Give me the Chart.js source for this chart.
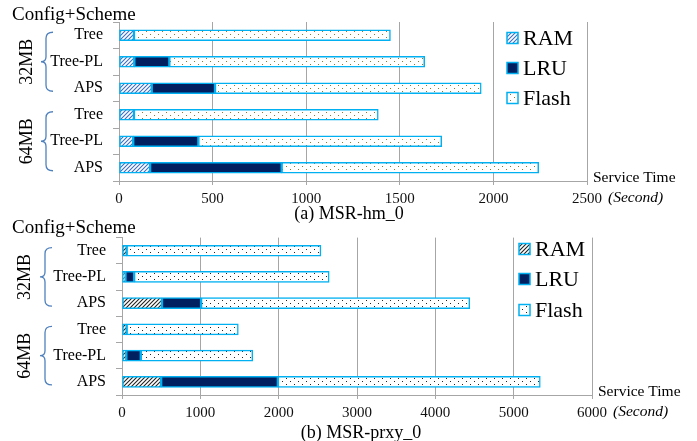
<!DOCTYPE html>
<html>
<head>
<meta charset="utf-8">
<script src="https://cdn.jsdelivr.net/npm/chart.js@4/dist/chart.umd.min.js"></script>
<style>
  html, body { margin: 0; padding: 0; background: #fff; }
  #wrap { position: relative; width: 697px; height: 441px; }
  #c1 { position: absolute; left: 0; top: 0; }
  #c2 { position: absolute; left: 0; top: 218px; }
</style>
</head>
<body>
<div id="wrap">
  <canvas id="c1" width="697" height="226" style="width:697px;height:226px"></canvas>
  <canvas id="c2" width="697" height="223" style="width:697px;height:223px"></canvas>
</div>
<script>
// categorias y grupos
const schemes = ['Tree', 'Tree-PL', 'APS', 'Tree', 'Tree-PL', 'APS'];
const groups = ['32MB', '64MB'];
const seriesNames = ['RAM', 'LRU', 'Flash'];

// (a) MSR-hm_0, segundos
const ramHm = [80, 82, 175, 80, 76, 166];
const lruHm = [0, 187, 338, 0, 348, 703];
const flashHm = [1370, 1364, 1422, 1305, 1300, 1373];

// (b) MSR-prxy_0, segundos
const ramPrxy = [60, 45, 510, 60, 55, 500];
const lruPrxy = [0, 110, 500, 0, 185, 1490];
const flashPrxy = [2480, 2490, 3430, 1425, 1430, 3350];

const FONT = 'Liberation Serif';
const EDGE = '#00b0f0';
const NAVY = '#002060';
const GRID = '#a6a6a6';

// patrones de relleno
function hatch(ctx, color) {
  const c = document.createElement('canvas');
  c.width = 4; c.height = 4;
  const g = c.getContext('2d');
  g.fillStyle = '#fff'; g.fillRect(0, 0, 4, 4);
  g.strokeStyle = color; g.lineWidth = 1.1;
  g.beginPath();
  g.moveTo(0, 4); g.lineTo(4, 0);
  g.moveTo(-1, 1); g.lineTo(1, -1);
  g.moveTo(3, 5); g.lineTo(5, 3);
  g.stroke();
  return ctx.createPattern(c, 'repeat');
}

function dots(ctx, color) {
  const c = document.createElement('canvas');
  c.width = 8; c.height = 6;
  const g = c.getContext('2d');
  g.fillStyle = '#fff'; g.fillRect(0, 0, 8, 6);
  g.fillStyle = color;
  g.fillRect(2, 1, 1, 1);
  g.fillRect(6, 4, 1, 1);
  return ctx.createPattern(c, 'repeat');
}

// textos, llaves de grupo y leyenda
const extras = {
  id: 'extras',
  afterDraw(chart, args, o) {
    const ctx = chart.ctx, y = chart.scales.y, area = chart.chartArea;
    ctx.save();
    ctx.fillStyle = '#000';
    ctx.textBaseline = 'middle';

    ctx.textAlign = 'left';
    ctx.font = '19px "' + FONT + '"';
    ctx.fillText('Config+Scheme', 12, o.titleY);

    ctx.textAlign = 'center';
    ctx.font = '18px "' + FONT + '"';
    ctx.fillText(o.subtitle, o.subX, o.subY);

    ctx.textAlign = 'left';
    ctx.font = '15.5px "' + FONT + '"';
    ctx.fillText('Service Time', area.right + 6, area.bottom - 3);
    ctx.font = 'italic 15.5px "' + FONT + '"';
    ctx.fillText('(Second)', area.right + 21, area.bottom + 17);

    // llaves
    groups.forEach((g, i) => {
      const top = y.getPixelForValue(i * 3) - 3;
      const bot = y.getPixelForValue(i * 3 + 2) + 3;
      const mid = (top + bot) / 2;
      const x0 = o.braceX + 10, xm = o.braceX + 3, xt = o.braceX - 2;
      ctx.strokeStyle = '#4f81bd';
      ctx.lineWidth = 1.3;
      ctx.beginPath();
      ctx.moveTo(x0, top);
      ctx.quadraticCurveTo(xm, top, xm, top + 6);
      ctx.lineTo(xm, mid - 5);
      ctx.quadraticCurveTo(xm, mid, xt, mid);
      ctx.quadraticCurveTo(xm, mid, xm, mid + 5);
      ctx.lineTo(xm, bot - 6);
      ctx.quadraticCurveTo(xm, bot, x0, bot);
      ctx.stroke();

      ctx.save();
      ctx.translate(o.groupX, mid);
      ctx.rotate(-Math.PI / 2);
      ctx.textAlign = 'center';
      ctx.font = '18px "' + FONT + '"';
      ctx.fillText(g, 0, 0);
      ctx.restore();
    });

    // leyenda
    chart.data.datasets.forEach((ds, i) => {
      const cy = o.legY[i];
      ctx.fillStyle = ds.backgroundColor;
      ctx.fillRect(o.legX, cy - 5.5, 11, 11);
      ctx.strokeStyle = EDGE;
      ctx.lineWidth = 1.5;
      ctx.strokeRect(o.legX, cy - 5.5, 11, 11);
      ctx.fillStyle = '#000';
      ctx.textAlign = 'left';
      ctx.font = '22px "' + FONT + '"';
      ctx.fillText(ds.label, o.legX + 16, cy + 1);
    });
    ctx.restore();
  }
};

function makeChart(id, ram, lru, flash, opt) {
  const ctx = document.getElementById(id).getContext('2d');
  const vals = [ram, lru, flash];
  const fills = [hatch(ctx, opt.hatchColor), NAVY, dots(ctx, opt.dotColor)];
  return new Chart(ctx, {
    type: 'bar',
    data: {
      labels: schemes,
      datasets: seriesNames.map((n, i) => ({
        label: n,
        data: vals[i],
        backgroundColor: fills[i],
        borderColor: EDGE,
        borderWidth: 1.5,
        borderSkipped: false,
        barThickness: 11
      }))
    },
    options: {
      indexAxis: 'y',
      responsive: false,
      animation: false,
      layout: { padding: { top: opt.padTop, right: opt.padRight, bottom: 0, left: 0 } },
      plugins: {
        legend: { display: false },
        tooltip: { enabled: false },
        extras: opt.extras
      },
      scales: {
        x: {
          stacked: true,
          min: 0,
          max: opt.max,
          ticks: {
            stepSize: opt.step, color: '#111', padding: 5,
            font: { family: FONT, size: 15 },
            callback: v => String(v)
          },
          grid: { color: GRID, tickLength: 4 },
          border: { color: GRID },
          afterFit: s => { s.height = opt.xHeight; }
        },
        y: {
          stacked: true,
          ticks: { color: '#000', font: { family: FONT, size: 16 }, padding: 10 },
          grid: { offset: true, drawOnChartArea: false, tickLength: 6, color: GRID },
          border: { color: GRID },
          afterFit: s => { s.width = opt.yWidth; }
        }
      }
    },
    plugins: [extras]
  });
}

makeChart('c1', ramHm, lruHm, flashHm, {
  max: 2500, step: 500, padTop: 22, padRight: 110, xHeight: 45, yWidth: 119,
  hatchColor: '#3b6fc2', dotColor: '#8a7a30',
  extras: { titleY: 15, subtitle: '(a) MSR-hm_0', subX: 349, subY: 214,
            braceX: 43, groupX: 27, legX: 507, legY: [38, 68, 98] }
});

makeChart('c2', ramPrxy, lruPrxy, flashPrxy, {
  max: 6000, step: 1000, padTop: 18, padRight: 105, xHeight: 46, yWidth: 122,
  hatchColor: '#222', dotColor: '#222',
  extras: { titleY: 10, subtitle: '(b) MSR-prxy_0', subX: 361, subY: 215,
            braceX: 42, groupX: 25, legX: 519, legY: [31, 61, 92] }
});
</script>
</body>
</html>
